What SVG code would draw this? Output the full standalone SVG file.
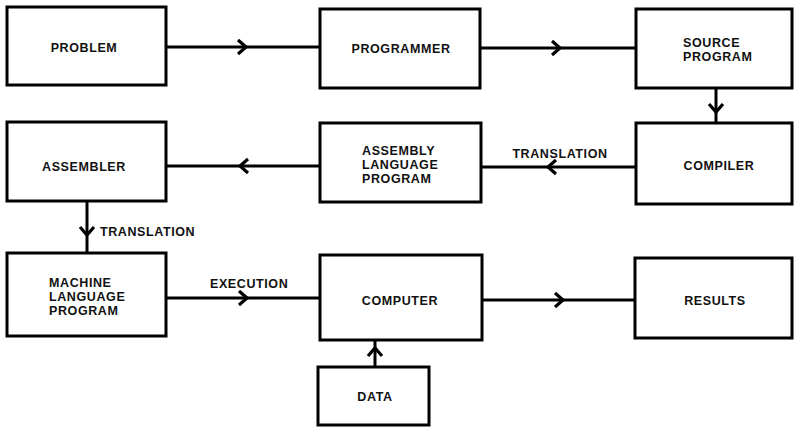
<svg xmlns="http://www.w3.org/2000/svg" width="794" height="428" viewBox="0 0 794 428">
<style>
.box{fill:#fff;stroke:#000;stroke-width:3}
.t{font-family:"Liberation Sans",Arial,sans-serif;font-weight:bold;font-size:12.5px;letter-spacing:0.6px;fill:#111}
.c{text-anchor:middle}
.ln{fill:none;stroke:#000;stroke-width:3;marker-mid:url(#chev)}
</style>
<defs>
<marker id="chev" markerUnits="userSpaceOnUse" markerWidth="20" markerHeight="20" refX="10" refY="10" orient="auto" overflow="visible">
<path d="M2,3 L10,10 L2,17" fill="none" stroke="#000" stroke-width="3.2"/>
</marker>
</defs>
<rect width="794" height="428" fill="#fff"/>
<g id="connectors">
<path class="ln" d="M166,47 L246,47 L320,47"/>
<path class="ln" d="M480,48 L560,48 L636,48"/>
<path class="ln" d="M716,88 L716,112 L716,123"/>
<path class="ln" d="M636,167 L548,167 L481,167"/>
<path class="ln" d="M320,166 L240,166 L166,166"/>
<path class="ln" d="M87,201 L87,235 L87,253"/>
<path class="ln" d="M166,298 L247,298 L320,298"/>
<path class="ln" d="M482,300 L563,300 L635,300"/>
<path class="ln" d="M375,367 L375,348 L375,340"/>
<text class="t c" x="560" y="158">TRANSLATION</text>
<text class="t" x="100" y="236">TRANSLATION</text>
<text class="t" x="210" y="288">EXECUTION</text>
</g>
<g id="problem"><rect class="box" x="7" y="7" width="159" height="78"/><text class="t c" x="84" y="52">PROBLEM</text></g>
<g id="programmer"><rect class="box" x="320" y="9" width="160" height="79"/><text class="t c" x="401" y="53">PROGRAMMER</text></g>
<g id="source"><rect class="box" x="636" y="9" width="156" height="79"/><text class="t" x="683" y="47">SOURCE</text><text class="t" x="683" y="61">PROGRAM</text></g>
<g id="compiler"><rect class="box" x="636" y="123" width="156" height="81"/><text class="t c" x="719" y="170">COMPILER</text></g>
<g id="assembly"><rect class="box" x="320" y="123" width="161" height="79"/><text class="t" x="362" y="155">ASSEMBLY</text><text class="t" x="362" y="169">LANGUAGE</text><text class="t" x="362" y="183">PROGRAM</text></g>
<g id="assembler"><rect class="box" x="7" y="122" width="159" height="79"/><text class="t c" x="84" y="171">ASSEMBLER</text></g>
<g id="machine"><rect class="box" x="7" y="253" width="159" height="83"/><text class="t" x="49" y="287">MACHINE</text><text class="t" x="49" y="301">LANGUAGE</text><text class="t" x="49" y="315">PROGRAM</text></g>
<g id="computer"><rect class="box" x="320" y="255" width="162" height="85"/><text class="t c" x="400" y="305">COMPUTER</text></g>
<g id="results"><rect class="box" x="635" y="258" width="157" height="80"/><text class="t c" x="715" y="305">RESULTS</text></g>
<g id="data"><rect class="box" x="318" y="367" width="111" height="58"/><text class="t c" x="375" y="401">DATA</text></g>
</svg>
